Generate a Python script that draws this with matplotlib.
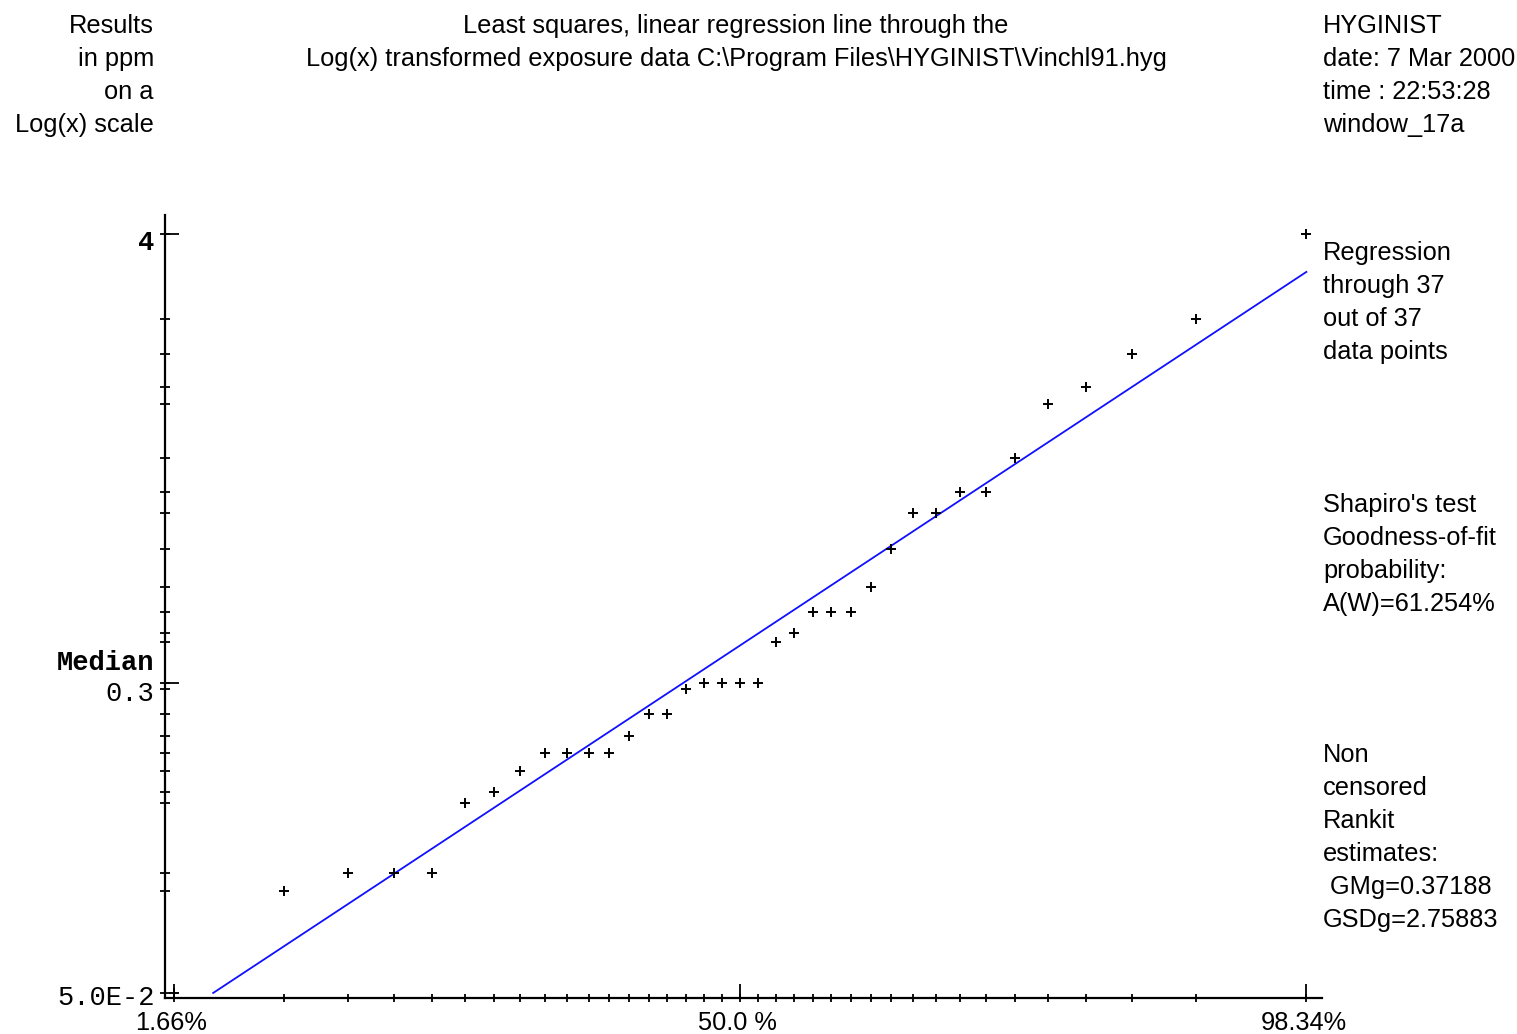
import numpy as np
import matplotlib.pyplot as plt
from statistics import NormalDist
from matplotlib.ticker import FixedLocator, NullFormatter

# Sorted exposure results (ppm)
results = [0.05, 0.09, 0.1, 0.1, 0.1, 0.15, 0.16, 0.18, 0.2, 0.2,
           0.2, 0.2, 0.22, 0.25, 0.25, 0.29, 0.3, 0.3, 0.3, 0.3,
           0.38, 0.4, 0.45, 0.45, 0.45, 0.52, 0.65, 0.8, 0.8, 0.9,
           0.9, 1.1, 1.5, 1.65, 2.0, 2.45, 4.0]

# Rankit estimates of the fitted lognormal
gm_g = 0.37188
gsd_g = 2.75883
shapiro_aw = 61.254

x_tick_ranks = [1, 19, 37]
x_tick_labels = ["1.66%", "50.0 %", "98.34%"]
y_label_values = [4, 0.3, 0.05]
y_label_texts = ["4", "0.3", "5.0E-2"]

W, H = 1517, 1034
SANS = "Liberation Sans"
MONO = "Liberation Mono"


def px(x, y):
    return x / W, 1 - y / H


n = len(results)
ranks = np.arange(1, n + 1)
rankits = np.array([NormalDist().inv_cdf((r - 0.375) / (n + 0.25)) for r in ranks])

fig = plt.figure(figsize=(W / 100, H / 100), dpi=100)
fig.patch.set_facecolor("white")
ax = fig.add_axes([165 / W, 1 - 998 / H, (1322 - 165) / W, (998 - 215) / H])

# data points
ax.plot(rankits, results, linestyle="none", marker="+", markersize=7,
        markeredgewidth=1.4, color="black", clip_on=False, zorder=3)

# least squares line on log scale, clipped at the lowest result
z_lo = np.log(min(results) / gm_g) / np.log(gsd_g)
z_line = np.linspace(z_lo, rankits[-1], 50)
ax.plot(z_line, gm_g * gsd_g ** z_line, color="#1010ff", lw=1.3, zorder=2)

ax.set_yscale("log")
ax.set_xlim(-2.158, 2.184)
ax.set_ylim(0.04857, 4.465)

for s in ["top", "right"]:
    ax.spines[s].set_visible(False)
for s in ["left", "bottom"]:
    ax.spines[s].set_linewidth(1.6)

# ticks at every plotting position and every distinct result
ax.xaxis.set_major_locator(FixedLocator(rankits[np.array(x_tick_ranks) - 1]))
ax.xaxis.set_minor_locator(FixedLocator(rankits))
ax.yaxis.set_major_locator(FixedLocator(y_label_values[:2]))
ax.yaxis.set_minor_locator(FixedLocator(sorted(set(results))))
ax.xaxis.remove_overlapping_locs = False
ax.yaxis.remove_overlapping_locs = False
for axis in (ax.xaxis, ax.yaxis):
    axis.set_major_formatter(NullFormatter())
    axis.set_minor_formatter(NullFormatter())
ax.tick_params(which="major", direction="in", length=10, width=1.3)
ax.tick_params(axis="x", which="minor", direction="inout", length=6, width=1.3)
ax.tick_params(axis="y", which="minor", direction="inout", length=7, width=1.3)

# y labels in the monospaced style
y_offsets = [-6.5, -8.5, -3.5]
for v, t, dy in zip(y_label_values, y_label_texts, y_offsets):
    ax.annotate(t, xy=(0, v), xycoords=("axes fraction", "data"),
                xytext=(-7.5, dy), textcoords="offset points",
                ha="right", va="center", family=MONO, fontsize=19.5,
                fontweight="bold" if t == "4" else "normal")
ax.annotate("Median", xy=(0, y_label_values[1]), xycoords=("axes fraction", "data"),
            xytext=(-7.5, 14.4), textcoords="offset points",
            ha="right", va="center", family=MONO, fontsize=19.5, fontweight="bold")

for r, t in zip(x_tick_ranks, x_tick_labels):
    ax.annotate(t, xy=(rankits[r - 1], 0), xycoords=("data", "axes fraction"),
                xytext=(-2, -18), textcoords="offset points",
                ha="center", va="center", family=SANS, fontsize=18.3)

# header and side notes
fs = 18.3
step = 33
left_block = ["Results", "in ppm", "on a", "Log(x) scale"]
for i, t in enumerate(left_block):
    fig.text(*px(154, 26 + i * step), t, ha="right", va="center", family=SANS, fontsize=fs)

title = ["Least squares, linear regression line through the",
         "Log(x) transformed exposure data C:\\Program Files\\HYGINIST\\Vinchl91.hyg"]
for i, t in enumerate(title):
    fig.text(*px(736, 26 + i * step), t, ha="center", va="center", family=SANS, fontsize=fs)

right_blocks = [
    (26, ["HYGINIST", "date: 7 Mar 2000", "time : 22:53:28", "window_17a"]),
    (253, ["Regression", f"through {n}", f"out of {n}", "data points"]),
    (505, ["Shapiro's test", "Goodness-of-fit", "probability:", f"A(W)={shapiro_aw:.3f}%"]),
    (755, ["Non", "censored", "Rankit", "estimates:", f" GMg={gm_g:.5f}", f"GSDg={gsd_g:.5f}"]),
]
for y0, lines in right_blocks:
    for i, t in enumerate(lines):
        fig.text(*px(1323, y0 + i * step), t, ha="left", va="center", family=SANS, fontsize=fs)

fig.savefig("out.png", dpi=100, facecolor="white")
